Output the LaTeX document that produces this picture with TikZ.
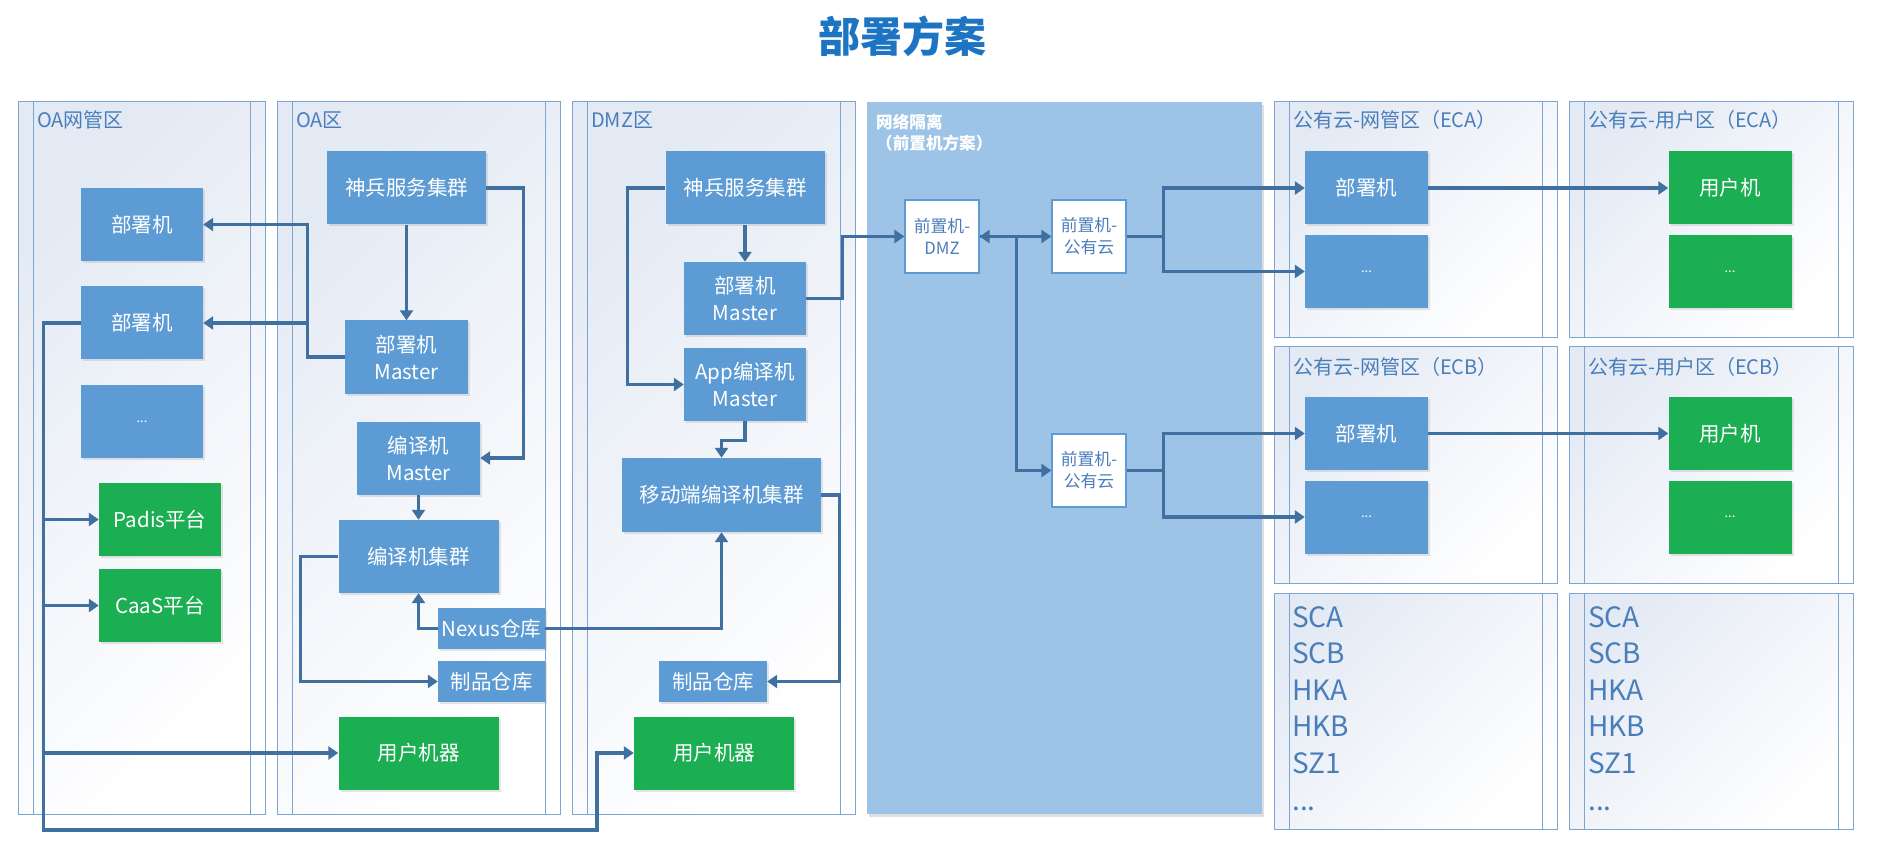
\documentclass[tikz,border=0pt]{standalone}
\usepackage{fontspec}
\setmainfont{Noto Sans CJK SC}
\usetikzlibrary{arrows.meta,shadows}

\begin{document}
\begin{tikzpicture}[x=1pt, y=-1pt,
    >={Triangle[length=10pt,width=13pt]},
    bluebox/.style={fill=myblue, text=white, inner sep=0pt, align=center, minimum height=73,
        font=\fontsize{20.5}{27}\selectfont,
        drop shadow={shadow xshift=2pt, shadow yshift=-2pt, opacity=0.2}},
    greenbox/.style={bluebox, fill=mygreen},
    moretext/.style={font=\fontsize{13}{14}\selectfont},
    frontbox/.style={fill=white, draw=myblue, line width=1.2pt, text=mytext, inner sep=0pt,
        align=center, minimum width=74, minimum height=73, font=\fontsize{16.8}{22}\selectfont},
    conn/.style={draw=myline, line width=3.2pt, ->},
    zoneline/.style={draw=myzone, line width=1pt},
    zonetitle/.style={text=mytext, anchor=west, inner sep=0pt, font=\fontsize{20}{22}\selectfont},
    listtext/.style={text=mytext, anchor=north west, align=left, inner sep=0pt,
        font=\fontsize{28}{36.6}\selectfont},
  ]
    \definecolor{myblue}{RGB}{93,155,212}
    \definecolor{mygreen}{RGB}{28,174,82}
    \definecolor{myline}{RGB}{64,112,160}
    \definecolor{myzone}{RGB}{125,165,212}
    \definecolor{myzonebg}{RGB}{228,234,244}
    \definecolor{mytext}{RGB}{74,126,187}
    \definecolor{myiso}{RGB}{157,195,230}
    \definecolor{mytitle}{RGB}{28,116,194}

    \useasboundingbox (0,0) rectangle (1884,858);

    % title
    \node[text=mytitle, font=\fontsize{42}{46}\selectfont\bfseries] (title) at (902,36) {部署方案};

    % zones
    \foreach \xa/\xb/\ya/\yb in {18/265/102/814, 277/560/102/814, 572/855/102/814,
        1274/1557/102/338, 1569/1853/102/338, 1274/1557/347/583, 1569/1853/347/583,
        1274/1557/593/829, 1569/1853/593/829}{
      \shade[top color=myzonebg, bottom color=white, shading angle=45] (\xa,\ya) rectangle (\xb,\yb);
      \draw[zoneline] (\xa,\ya) rectangle (\xb,\yb)
        (\xa+15,\ya) -- (\xa+15,\yb) (\xb-15,\ya) -- (\xb-15,\yb);
    }
    \foreach \xa/\ya/\ttl in {18/120/OA网管区, 277/120/OA区, 572/120/DMZ区,
        1274/120/公有云-网管区（ECA）, 1569/120/公有云-用户区（ECA）,
        1274/367/公有云-网管区（ECB）, 1569/367/公有云-用户区（ECB）}
      \node[zonetitle] (zt\xa\ya) at (\xa+19,\ya) {\ttl};

    % isolation zone
    \node[fill=myiso, inner sep=0pt, minimum width=395, minimum height=712,
        drop shadow={shadow xshift=2pt, shadow yshift=-3pt, opacity=0.25}] (iso) at (1064.5,458) {};
    \node[text=white, anchor=west, align=left, inner sep=0pt,
        font=\fontsize{16.6}{21}\selectfont\bfseries] (isotitle) at (876,132.5) {网络隔离\\（前置机方案）};

    % region lists
    \node[listtext] (lista) at (1292,606) {SCA\\SCB\\HKA\\HKB\\SZ1\\...};
    \node[listtext] (listb) at (1588,606) {SCA\\SCB\\HKA\\HKB\\SZ1\\...};

    % OA net management zone
    \node[bluebox, minimum width=122] (dep1) at (142,224.5) {部署机};
    \node[bluebox, minimum width=122] (dep2) at (142,323) {部署机};
    \node[bluebox, moretext, minimum width=122] (dep3) at (142,421.5) {...};
    \node[greenbox, minimum width=122] (padis) at (160,519.5) {Padis平台};
    \node[greenbox, minimum width=122] (caas) at (160,605.5) {CaaS平台};

    % OA zone
    \node[bluebox, minimum width=159] (oasb) at (406.5,188) {神兵服务集群};
    \node[bluebox, minimum width=123] (oadm) at (406.5,357) {部署机\\Master};
    \node[bluebox, minimum width=123] (oacm) at (418.5,458) {编译机\\Master};
    \node[bluebox, minimum width=160] (oacc) at (418.5,556.5) {编译机集群};
    \node[bluebox, minimum width=107, minimum height=41] (nexus) at (491.5,628.5) {Nexus仓库};
    \node[bluebox, minimum width=107, minimum height=41] (oaart) at (491.5,681.5) {制品仓库};
    \node[greenbox, minimum width=160] (oauser) at (418.5,753) {用户机器};

    % DMZ zone
    \node[bluebox, minimum width=159] (dmzsb) at (745,188) {神兵服务集群};
    \node[bluebox, minimum width=122] (dmzdm) at (745,298.5) {部署机\\Master};
    \node[bluebox, minimum width=122] (dmzapp) at (745,384.5) {App编译机\\Master};
    \node[bluebox, minimum width=199, minimum height=74] (dmzmob) at (721.5,495) {移动端编译机集群};
    \node[bluebox, minimum width=108, minimum height=41] (dmzart) at (713,681.5) {制品仓库};
    \node[greenbox, minimum width=160] (dmzuser) at (714,753) {用户机器};

    % front machines
    \node[frontbox] (fdmz) at (942,236.5) {前置机-\\DMZ};
    \node[frontbox] (fpub1) at (1089,236.5) {前置机-\\公有云};
    \node[frontbox] (fpub2) at (1089,470.5) {前置机-\\公有云};

    % public cloud
    \node[bluebox, minimum width=123] (ecadep) at (1366.5,188) {部署机};
    \node[bluebox, moretext, minimum width=123] (ecamore) at (1366.5,271.5) {...};
    \node[greenbox, minimum width=123] (ecauser) at (1730,188) {用户机};
    \node[greenbox, moretext, minimum width=123] (ecausermore) at (1730,271.5) {...};
    \node[bluebox, minimum width=123] (ecbdep) at (1366.5,433.5) {部署机};
    \node[bluebox, moretext, minimum width=123] (ecbmore) at (1366.5,517) {...};
    \node[greenbox, minimum width=123] (ecbuser) at (1730,433.5) {用户机};
    \node[greenbox, moretext, minimum width=123] (ecbusermore) at (1730,517) {...};

    % connectors
    \draw[conn] (oasb.south) -- (oadm.north);
    \draw[conn] (oasb.east) -- ++(37.5,0) |- (oacm.east);
    \draw[conn] (oadm.west) -- ++(-37,0) |- (dep1.east);
    \draw[conn] (oadm.west) -- ++(-37,0) |- (dep2.east);
    \draw[conn] (oacm.south) -- (oacc.north);
    \draw[conn] (nexus.west) -| (oacc.south);
    \draw[conn] (oacc.west) -- ++(-37.5,0) |- (oaart.west);
    \draw[conn] (nexus.east) -| (dmzmob.south);

    \coordinate (trunk) at (43.5,830);
    \coordinate (turn) at (597,830);
    \draw[conn] (dep2.west) -| (trunk) -- (turn) |- (dmzuser.west);
    \draw[conn] (trunk |- padis.west) -- (padis.west);
    \draw[conn] (trunk |- caas.west) -- (caas.west);
    \draw[conn] (trunk |- oauser.west) -- (oauser.west);

    \draw[conn] (dmzsb.south) -- (dmzdm.north);
    \draw[conn] (dmzsb.west) -- ++(-37.5,0) |- (dmzapp.west);
    \draw[conn] (dmzapp.south) -- ++(0,19) -| (dmzmob.north);
    \draw[conn] (dmzmob.east) -- ++(18,0) |- (dmzart.east);
    \draw[conn] (dmzdm.east) -- ++(36.5,0) |- (fdmz.west);

    \draw[conn, <->] (fdmz.east) -- (fpub1.west);
    \draw[conn] (fdmz.east) -- ++(37,0) |- (fpub2.west);
    \draw[conn] (fpub1.east) -- ++(37,0) |- (ecadep.west);
    \draw[conn] (fpub1.east) -- ++(37,0) |- (ecamore.west);
    \draw[conn] (fpub2.east) -- ++(37,0) |- (ecbdep.west);
    \draw[conn] (fpub2.east) -- ++(37,0) |- (ecbmore.west);
    \draw[conn] (ecadep.east) -- (ecauser.west);
    \draw[conn] (ecbdep.east) -- (ecbuser.west);
\end{tikzpicture}
\end{document}
